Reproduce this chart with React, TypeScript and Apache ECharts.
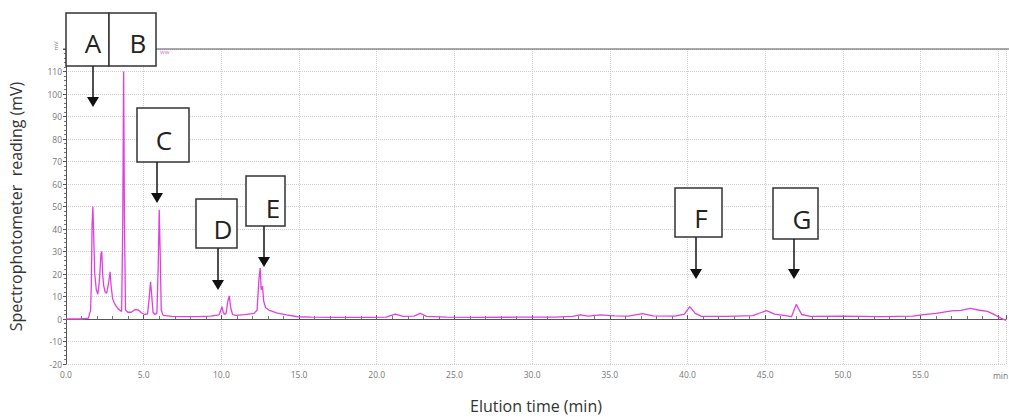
import React, { useEffect, useRef } from "react";
import * as echarts from "echarts";

// Chromatogram trace, [elution time (min), reading (mV)]
const earlyTrace: [number, number][] = [
  [0, 0], [1.0, 0], [1.45, 0.4], [1.52, 2.5], [1.58, 3.5], [1.63, 15], [1.68, 42], [1.73, 50],
  [1.78, 38], [1.85, 20], [1.95, 13], [2.05, 11], [2.15, 17], [2.25, 29], [2.3, 30], [2.36, 20],
  [2.42, 15], [2.52, 12], [2.62, 11.5], [2.74, 16], [2.84, 21], [2.9, 15], [3.0, 9], [3.15, 6.5],
  [3.35, 4.5], [3.58, 3.3], [3.65, 40], [3.71, 110], [3.76, 45], [3.83, 4], [3.98, 3],
  [4.2, 3], [4.45, 4.2], [4.65, 4], [4.85, 2.8], [5.05, 2], [5.25, 2.3], [5.35, 9], [5.44, 16.5],
  [5.5, 12], [5.6, 3], [5.72, 2], [5.85, 2.6], [5.93, 22], [6.0, 48.5], [6.06, 30], [6.13, 4],
  [6.25, 1.6], [6.8, 1.2], [7.5, 1.1], [8.5, 1.1],
];

const middleTrace: [number, number][] = [
  [9.3, 1.3], [9.85, 1.8], [9.97, 4], [10.04, 5.5], [10.12, 3], [10.2, 2], [10.3, 2.5],
  [10.42, 8], [10.51, 10.3], [10.6, 5], [10.72, 2], [10.9, 1.6], [11.5, 1.9], [12.1, 2.5],
  [12.3, 4], [12.42, 18], [12.5, 22.6], [12.56, 13], [12.65, 14.6], [12.72, 8], [12.85, 5],
  [13.1, 3.8], [13.6, 2.6], [14.2, 1.8], [14.9, 1.0], [15.8, 0.8], [17.5, 0.7], [19.5, 0.7],
  [20.6, 0.8], [21.2, 2.2], [21.7, 1.2], [22.4, 1.3], [22.8, 2.5], [23.2, 1.2], [24.5, 0.8],
];

const lateTrace: [number, number][] = [
  [26.5, 0.7], [29.0, 0.8], [31.5, 0.8], [32.6, 1.2], [33.1, 1.8], [33.6, 1.3], [34.4, 1.8],
  [35.3, 1.4], [36.2, 1.3], [37.1, 2.4], [37.8, 1.4], [39.2, 1.3], [39.8, 2.2], [40.15, 5.5],
  [40.5, 2.5], [40.9, 1.2], [42.5, 1.2], [44.2, 1.5], [44.8, 3], [45.1, 3.7], [45.6, 2.2],
  [46.2, 1.6], [46.7, 1.1], [47.0, 6.5], [47.35, 2], [47.9, 1.2], [50.0, 1.3], [52.5, 1.1],
  [54.5, 1.3], [55.2, 1.9], [56.0, 2.5], [57.0, 3.6], [57.6, 3.8], [58.2, 4.7], [58.7, 4.0],
  [59.3, 3.4], [59.8, 1.8], [60.2, 0.3], [60.5, -0.6],
];

const xTicks = { min: 0, max: 60.5, interval: 5 };
const yTicks = { min: -20, max: 120, interval: 10 };

type Note = { label: string; box: [number, number, number, number]; text: [number, number]; arrow?: [number, number, number] };
const notes: Note[] = [
  { label: "A", box: [66, 13, 43, 53], text: [93, 43], arrow: [93, 66, 107] },
  { label: "B", box: [109, 13, 47, 53], text: [138, 43] },
  { label: "C", box: [137, 108, 52, 54], text: [164, 140], arrow: [157, 162, 203] },
  { label: "D", box: [196, 199, 41, 49], text: [223, 229], arrow: [218, 248, 290] },
  { label: "E", box: [246, 176, 39, 50], text: [273, 208], arrow: [264, 226, 267] },
  { label: "F", box: [675, 188, 47, 49], text: [701, 218], arrow: [696, 237, 279] },
  { label: "G", box: [773, 188, 45, 51], text: [802, 219], arrow: [794, 239, 279] },
];

export default function App() {
  const ref = useRef<HTMLDivElement>(null);
  useEffect(() => {
    if (!ref.current) return;
    const chart = echarts.init(ref.current, undefined, { renderer: "svg" });
    const data = [...earlyTrace, ...middleTrace, ...lateTrace];
    const graphics: any[] = [
      { type: "line", shape: { x1: 63, y1: 49, x2: 1009, y2: 49 }, style: { stroke: "#555", lineWidth: 1 }, z: 10 },
      { type: "text", x: 160, y: 49, style: { text: "ww", fontSize: 6, fill: "#e060e0", fontFamily: "Open Sans" }, z: 10 },
      { type: "text", x: 56, y: 46, rotation: Math.PI / 2, style: { text: "mV", fontSize: 6, fill: "#777", fontFamily: "Open Sans", align: "center", verticalAlign: "middle" }, z: 10 },
      { type: "text", x: 993, y: 371, style: { text: "min", fontSize: 8.5, fill: "#777", fontFamily: "Open Sans", align: "left", verticalAlign: "top" }, z: 10 },
    ];
    notes.forEach((n) => {
      graphics.push({
        type: "rect",
        shape: { x: n.box[0], y: n.box[1], width: n.box[2], height: n.box[3] },
        style: { fill: "#fff", stroke: "#333", lineWidth: 1.5 },
        z: 20,
      });
      graphics.push({
        type: "text",
        x: n.text[0],
        y: n.text[1],
        style: { text: n.label, fontSize: 26, fontFamily: "Open Sans", fill: "#222", align: "center", verticalAlign: "middle" },
        z: 21,
      });
      if (n.arrow) {
        const [ax, y1, y2] = n.arrow;
        graphics.push({ type: "line", shape: { x1: ax, y1, x2: ax, y2: y2 - 8 }, style: { stroke: "#222", lineWidth: 1.6 }, z: 20 });
        graphics.push({ type: "polygon", shape: { points: [[ax - 6, y2 - 10], [ax + 6, y2 - 10], [ax, y2]] }, style: { fill: "#111" }, z: 20 });
      }
    });
    chart.setOption({
      animation: false,
      grid: { left: 63, right: 0, top: 49, bottom: 54 },
      xAxis: {
        type: "value",
        min: xTicks.min,
        max: xTicks.max,
        interval: xTicks.interval,
        name: "Elution time (min)",
        nameLocation: "middle",
        nameGap: 34,
        nameTextStyle: { fontSize: 16, color: "#333", fontFamily: "Open Sans" },
        axisLine: { lineStyle: { color: "#555", width: 1 } },
        axisTick: { inside: true, length: 4, lineStyle: { color: "#555" } },
        minorTick: { show: true, splitNumber: 5, length: 3, lineStyle: { color: "#777" } },
        axisLabel: {
          fontSize: 8.5,
          color: "#777",
          fontFamily: "Open Sans",
          margin: 6,
          formatter: (v: number) => (v >= 60 ? "" : v.toFixed(1)),
        },
        splitLine: { show: true, lineStyle: { type: "dotted", color: "#cfcfcf" } },
      },
      yAxis: {
        type: "value",
        min: yTicks.min,
        max: yTicks.max,
        interval: yTicks.interval,
        name: "Spectrophotometer  reading (mV)",
        nameLocation: "middle",
        nameGap: 42,
        nameTextStyle: { fontSize: 16, color: "#333", fontFamily: "Open Sans" },
        axisLine: { show: true, lineStyle: { color: "#555", width: 1 } },
        axisTick: { length: 3, lineStyle: { color: "#555" } },
        minorTick: { show: true, splitNumber: 5, length: 2, lineStyle: { color: "#777" } },
        axisLabel: {
          fontSize: 8.5,
          color: "#777",
          fontFamily: "Open Sans",
          margin: 4,
          formatter: (v: number) => (v >= 120 ? "" : String(v)),
        },
        splitLine: { show: true, lineStyle: { type: "dotted", color: "#cfcfcf" } },
      },
      series: [
        {
          type: "line",
          data,
          showSymbol: false,
          lineStyle: { color: "#e040e0", width: 1.3 },
          z: 5,
        },
      ],
      graphic: graphics,
    });
    return () => chart.dispose();
  }, []);
  return <div ref={ref} style={{ position: "fixed", left: 0, top: 0, width: 1009, height: 419, background: "#fff" }} />;
}
